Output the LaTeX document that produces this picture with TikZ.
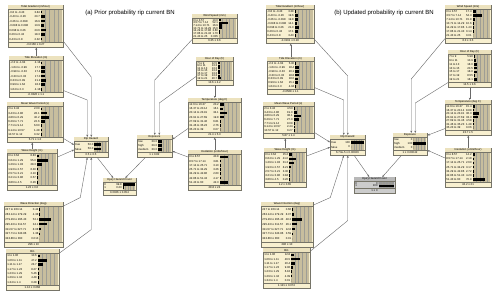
\documentclass[tikz,border=0pt]{standalone}
\usepackage{fontspec}
\setmainfont{Liberation Sans}
\usetikzlibrary{arrows.meta,calc}

\definecolor{bnbody}{RGB}{248,240,208}
\definecolor{bntitle}{RGB}{236,226,190}
\definecolor{bnbar}{RGB}{200,190,158}
\definecolor{bnedge}{RGB}{118,116,104}
\definecolor{bnline}{RGB}{105,105,105}

\newcommand\bnfont{\fontsize{2.8}{3.2}\selectfont}

\tikzset{
  bnplain/.style={},
  bngrey/.code={\colorlet{bnbody}{black!20}\colorlet{bntitle}{black!28}\colorlet{bnbar}{black!40}},
  bnframe/.style={draw=bnedge, fill=bnbody, line width=0.55pt, inner sep=0pt, anchor=north west},
  bntext/.style={font=\bnfont, inner sep=0pt, text=black},
  bngrid/.style={draw=bnedge!70, line width=0.15pt},
  bnlink/.style={draw=bnline, line width=0.4pt, -{Stealth[length=2.4pt,width=2pt]}},
  heading/.style={font=\fontsize{6}{7}\selectfont, inner sep=0pt}
}

% #1 look, #2 name, #3 top left, #4 width, #5 height, #6 number of states,
% #7 title, #8 states (label/percent), #9 mean +- sd
\newcommand{\bnnode}[9][bnplain]{%
  \begin{scope}[#1]
    \node[bnframe, minimum width=#4pt, minimum height=#5pt] (#2) at (#3) {};
    \begin{scope}[shift={(#2.north west)}]
      \pgfmathsetmacro\rowh{(#5-10.4)/#6}
      \pgfmathsetmacro\barh{min(1.35,0.4*\rowh)}
      \pgfmathsetmacro\barx{0.6*#4}
      \pgfmathsetmacro\barw{#4-0.8-\barx}
      \fill[bntitle] (0.3,0.3) rectangle (#4-0.3,4);
      \fill[bnbar] (\barx,4) rectangle (#4-0.8,#5-4.8);
      \foreach \k in {1,...,4}
        \draw[bngrid] (\barx+\k*\barw/5,4) -- (\barx+\k*\barw/5,#5-4.8);
      \draw[bnedge, line width=0.3pt] (0,4) -- (#4,4) (0,#5-4.8) -- (#4,#5-4.8);
      \node[bntext] at (#4/2,2.1) {#7};
      \foreach \lab/\val [count=\i] in {#8} {
        \pgfmathsetmacro\yy{4.8+(\i-0.5)*\rowh}
        \node[bntext, anchor=west] at (1.2,\yy) {\lab};
        \node[bntext, anchor=east] at (\barx-0.8,\yy) {\val};
        \fill[black] (\barx,\yy-\barh) rectangle (\barx+\val*\barw/100,\yy+\barh);
      }
      \node[bntext] at (#4/2,#5-2.4) {#9};
    \end{scope}
  \end{scope}
}

\begin{document}
\begin{tikzpicture}[x=1pt,y=-1pt]
\useasboundingbox (0,0) rectangle (500,297);
\fill[white] (0,0) rectangle (500,297);

\node[heading] (titleA) at (130,13) {(a) Prior probability rip current BN};
\node[heading] (titleB) at (384,13) {(b) Updated probability rip current BN};

% (a) prior
\bnnode{gradA}{8,5}{55}{42}{7}{Tidal Gradient (m/hour)}{%
  -0.8 to -0.43/3.84, -0.43 to -0.26/20.7, -0.26 to -0.098/16.9, -0.098 to 0.098/13.9,
  0.098 to 0.26/23.6, 0.26 to 0.43/18.3, 0.43 to 0.8/2.32}{-0.0158 ± 0.27}
\bnnode{elevA}{9,56}{54}{41}{7}{Tide Elevation (m)}{%
  -2.3 to -1.64/4.18, -1.64 to -0.99/17.7, -0.99 to -0.33/17.4, -0.33 to 0.33/17.0,
  0.33 to 0.99/21.2, 0.99 to 1.64/18.3, 1.64 to 2.3/4.18}{-0.0326 ± 1.1}
\bnnode{periodA}{7,102}{56}{40}{7}{Mean Wave Period (s)}{%
  2 to 3.43/2.00, 3.43 to 4.86/28.1, 4.86 to 6.29/40.2, 6.29 to 7.71/22.6,
  7.71 to 9.14/6.60, 9.14 to 10.57/1.48, 10.57 to 12/0.32}{5.71 ± 1.3}
\bnnode{heightA}{7,149}{50}{41}{7}{Wave Height (m)}{%
  0 to 0.64/8.83, 0.64 to 1.29/55.0, 1.29 to 1.93/28.3, 1.93 to 2.57/6.30,
  2.57 to 3.21/2.10, 3.21 to 3.86/0.57, 3.86 to 4.5/0.26}{1.23 ± 0.6}
\bnnode{dirA}{4,202}{59}{45}{7}{Wave Direction (deg)}{%
  247 to 263.14/0.44, 263.14 to 279.29/4.38, 279.29 to 295.43/52.1, 295.43 to 311.57/34.1,
  311.57 to 327.71/8.08, 327.71 to 343.86/1.38, 343.86 to 360/0.013}{296 ± 10}
\bnnode{binA}{6,249}{53}{41}{7}{Bin}{%
  1 to 1.06/10.6, 1.06 to 1.11/47.2, 1.11 to 1.17/23.7, 1.17 to 1.23/8.27,
  1.23 to 1.29/5.46, 1.29 to 1.34/4.48, 1.34 to 1.4/0.28}{1.12 ± 0.068}
\bnnode{ripA}{74,137}{34}{20}{2}{Rip Hazard}{true/50.0, false/50.0}{0.5 ± 0.5}
\bnnode{injA}{103,178}{33}{17}{2}{Injury Hazard Cover}{0/99.8, 1/0.23}{0.0026 ± 0.054}
\bnnode{expoA}{137,135}{35}{22}{3}{Exposure}{low/33.3, high/33.3, medium/33.3}{1 ± 0.82}
\bnnode{windA}{192,14}{45}{29}{7}{Wind Speed (m/s)}{%
  0 to 3.57/10.0, 3.57 to 7.14/52.1, 7.14 to 10.71/16.9, 10.71 to 14.29/15.6,
  14.29 to 17.86/3.60, 17.86 to 21.43/1.70, 21.43 to 25/0.005}{6.35 ± 3.6}
\bnnode{hourA}{196,57}{37}{28}{7}{Hour of Day (h)}{%
  7 to 9/12.5, 9 to 11/13.3, 11 to 13/13.3, 13 to 15/13.3,
  15 to 17/13.3, 17 to 19/13.3, 19 to 21/20.7}{13.6 ± 4.2}
\bnnode{tempA}{188,98}{53}{39}{7}{Temperature (deg C)}{%
  12.6 to 16.37/20.2, 16.37 to 20.14/16.1, 20.14 to 23.91/34.1, 23.91 to 27.69/19.8,
  27.69 to 31.46/6.81, 31.46 to 35.23/2.76, 35.23 to 39/0.07}{21.4 ± 5.3}
\bnnode{insolA}{188,150}{53}{40}{7}{Insolation (units/hour)}{%
  0 to 8.57/40.8, 8.57 to 17.14/3.81, 17.14 to 25.71/3.10, 25.71 to 34.29/3.26,
  34.29 to 42.86/2.60, 42.86 to 51.43/4.17, 51.43 to 60/42.3}{28.8 ± 24}

\draw[bnlink] (elevA.north) -- (elevA.north |- gradA.south);
\draw[bnlink] ($(gradA.south east)+(0,-6)$) -- ($(ripA.north)+(0,-60)$) -- (ripA.north);
\draw[bnlink] ($(elevA.south east)+(0,-7)$) -- ($(ripA.north)+(-4,-37)$) -- ($(ripA.north)+(-4,0)$);
\draw[bnlink] ($(periodA.south east)+(0,-4)$) -- ($(ripA.west)+(0,-2.5)$);
\draw[bnlink] (heightA.north) -- (heightA.north |- periodA.south);
\draw[bnlink] ($(heightA.north east)+(0,8)$) -- ($(ripA.west)+(0,2.5)$);
\draw[bnlink] ($(dirA.north east)+(0,4)$) -- ($(ripA.south)+(-11,40)$) -- ($(ripA.south)+(-4,0)$);
\draw[bnlink] ($(binA.north east)+(0,4)$) -- ($(ripA.south)+(0,72)$) -- (ripA.south);
\draw[bnlink] ($(ripA.south)+(6,0)$) -- ($(injA.north)+(-6.5,0)$);
\draw[bnlink] ($(expoA.south)+(-9.5,0)$) -- ($(injA.north)+(5.5,0)$);
\draw[bnlink] ($(windA.south west)+(0,-4)$) -- ($(expoA.north)+(0,-55)$) -- (expoA.north);
\draw[bnlink] ($(hourA.south west)+(0,-9)$) -- ($(expoA.north)+(4.5,-32)$) -- ($(expoA.north)+(4.5,0)$);
\draw[bnlink] (hourA.south) -- (hourA.south |- tempA.north);
\draw[bnlink] ($(tempA.south west)+(0,-9)$) -- ($(expoA.east)+(0,-7)$);
\draw[bnlink] (insolA.north) -- (insolA.north |- tempA.south);
\draw[bnlink] ($(insolA.north west)+(0,7)$) -- ($(expoA.east)+(0,5)$);

% (b) updated
\bnnode{gradB}{266,5}{48}{38}{7}{Tidal Gradient (m/hour)}{%
  -0.8 to -0.43/3.38, -0.43 to -0.26/19.6, -0.26 to -0.098/19.8, -0.098 to 0.098/14.1,
  0.098 to 0.26/21.0, 0.26 to 0.43/17.1, 0.43 to 0.8/3.43}{-0.0161 ± 0.28}
\bnnode{elevB}{267,57}{47}{37}{7}{Tide Elevation (m)}{%
  -2.3 to -1.64/5.30, -1.64 to -0.99/18.4, -0.99 to -0.33/20.1, -0.33 to 0.33/18.8,
  0.33 to 0.99/18.0, 0.99 to 1.64/15.1, 1.64 to 2.3/4.34}{-0.0568 ± 1.1}
\bnnode{periodB}{263,102}{51}{36}{7}{Mean Wave Period (s)}{%
  2 to 3.43/4.53, 3.43 to 4.86/19.0, 4.86 to 6.29/38.1, 6.29 to 7.71/27.0,
  7.71 to 9.14/9.09, 9.14 to 10.57/2.44, 10.57 to 12/0.27}{5.87 ± 1.4}
\bnnode{heightB}{264,148}{42}{39}{7}{Wave Height (m)}{%
  0 to 0.64/15.2, 0.64 to 1.29/41.0, 1.29 to 1.93/31.3, 1.93 to 2.57/8.21,
  2.57 to 3.21/3.30, 3.21 to 3.86/0.84, 3.86 to 4.5/0.20}{1.2 ± 0.65}
\bnnode{dirB}{261,202}{52}{45}{7}{Wave Direction (deg)}{%
  247 to 263.14/0.66, 263.14 to 279.29/8.07, 279.29 to 295.43/48.3, 295.43 to 311.57/26.1,
  311.57 to 327.71/12.8, 327.71 to 343.86/3.59, 343.86 to 360/0.01}{296 ± 10}
\bnnode{binB}{263,248}{47}{40}{7}{Bin}{%
  1 to 1.06/12.8, 1.06 to 1.11/46.5, 1.11 to 1.17/20.4, 1.17 to 1.23/9.06,
  1.23 to 1.29/6.18, 1.29 to 1.34/4.39, 1.34 to 1.4/0.01}{1.121 ± 0.074}
\bnnode{ripB}{330,135}{35}{20}{2}{Rip Hazard}{true/100, false/0}{6.73e-5 ± 0.00026}
\bnnode[bngrey]{injB}{354,177}{41}{16}{2}{Injury Hazard Cover}{0/0, 1/100}{1 ± 0}
\bnnode{expoB}{393,133}{34}{22}{3}{Exposure}{low/0, high/100, medium/0}{1 ± 0.00042}
\bnnode{windB}{445,5}{46}{38}{7}{Wind Speed (m/s)}{%
  0 to 3.57/17.4, 3.57 to 7.14/54.3, 7.14 to 10.71/15.8, 10.71 to 14.29/10.6,
  14.29 to 17.86/1.43, 17.86 to 21.43/0.14, 21.43 to 25/0.01}{6.3 ± 3.5}
\bnnode{hourB}{448,50}{43}{37}{7}{Hour of Day (h)}{%
  7 to 9/5.98, 9 to 11/10.9, 11 to 13/18.0, 13 to 15/20.5,
  15 to 17/18.0, 17 to 19/8.55, 19 to 21/18.1}{14.5 ± 3.6}
\bnnode{tempB}{445,100}{46}{35}{7}{Temperature (deg C)}{%
  12.6 to 16.37/15.4, 16.37 to 20.14/8.88, 20.14 to 23.91/36.3, 23.91 to 27.69/33.3,
  27.69 to 31.46/4.58, 31.46 to 35.23/1.48, 35.23 to 39/0.06}{23.7 ± 5}
\bnnode{insolB}{445,148}{46}{39}{7}{Insolation (units/hour)}{%
  0 to 8.57/14.2, 8.57 to 17.14/2.18, 17.14 to 25.71/2.60, 25.71 to 34.29/3.17,
  34.29 to 42.86/2.72, 42.86 to 51.43/4.23, 51.43 to 60/70.9}{43.2 ± 21}

\draw[bnlink] (elevB.north) -- (elevB.north |- gradB.south);
\draw[bnlink] ($(gradB.south east)+(0,-4)$) -- ($(ripB.north)+(0,-59)$) -- (ripB.north);
\draw[bnlink] ($(elevB.south east)+(0,-7)$) -- ($(ripB.north)+(-4,-35)$) -- ($(ripB.north)+(-4,0)$);
\draw[bnlink] ($(periodB.south east)+(0,-6)$) -- ($(ripB.west)+(0,-3)$);
\draw[bnlink] (heightB.north) -- (heightB.north |- periodB.south);
\draw[bnlink] ($(heightB.north east)+(0,8)$) -- ($(ripB.west)+(0,2)$);
\draw[bnlink] ($(dirB.north east)+(0,3)$) -- ($(ripB.south)+(-17.5,42)$) -- ($(ripB.south)+(-4,0)$);
\draw[bnlink] ($(binB.north east)+(0,3)$) -- ($(ripB.south)+(0,65)$) -- (ripB.south);
\draw[bnlink] ($(ripB.south)+(6.5,0)$) -- ($(injB.north)+(-5.5,0)$);
\draw[bnlink] ($(expoB.south)+(-9,0)$) -- ($(injB.north)+(7.5,0)$);
\draw[bnlink] ($(windB.south west)+(0,-5)$) -- ($(expoB.north)+(1,-54)$) -- ($(expoB.north)+(1,0)$);
\draw[bnlink] ($(hourB.south west)+(0,-5)$) -- ($(expoB.north)+(5,-30)$) -- ($(expoB.north)+(5,0)$);
\draw[bnlink] (hourB.south) -- (hourB.south |- tempB.north);
\draw[bnlink] ($(tempB.south west)+(0,-7)$) -- ($(expoB.east)+(0,-9)$);
\draw[bnlink] (insolB.north) -- (insolB.north |- tempB.south);
\draw[bnlink] ($(insolB.north west)+(0,10)$) -- ($(expoB.east)+(0,6)$);
\end{tikzpicture}
\end{document}
